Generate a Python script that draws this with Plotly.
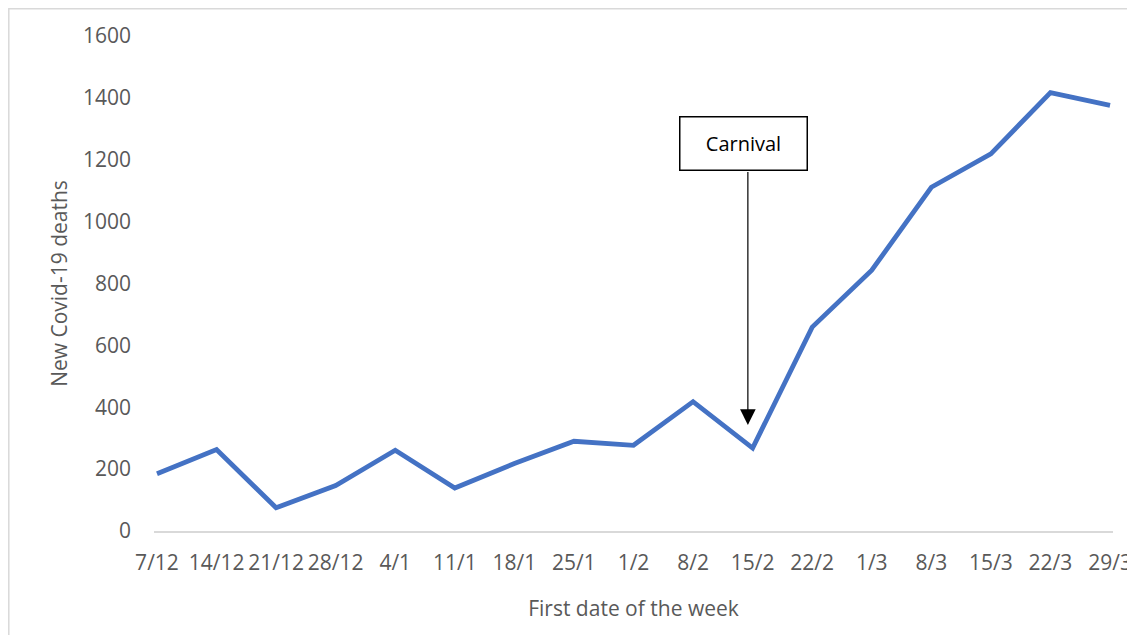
import plotly.graph_objects as go

weeks = ["7/12", "14/12", "21/12", "28/12", "4/1", "11/1", "18/1", "25/1", "1/2",
         "8/2", "15/2", "22/2", "1/3", "8/3", "15/3", "22/3", "29/3"]
deaths = [185, 263, 75, 147, 261, 139, 218, 290, 277,
          418, 268, 659, 843, 1111, 1219, 1417, 1376]
y_ticks = [0, 200, 400, 600, 800, 1000, 1200, 1400, 1600]

FONT = "Open Sans"
GREY = "#595959"
FS = 21

fig = go.Figure()
fig.add_trace(go.Scatter(
    x=list(range(len(weeks))), y=deaths, mode="lines",
    line=dict(color="#4472C4", width=4.8),
    hoverinfo="skip", showlegend=False,
))

fig.update_layout(
    width=1127, height=627,
    margin=dict(l=146, r=22, t=28, b=104, autoexpand=False),
    paper_bgcolor="white", plot_bgcolor="white",
    font=dict(family=FONT, size=FS, color=GREY),
    showlegend=False,
    xaxis=dict(
        tickmode="array", tickvals=list(range(len(weeks))), ticktext=weeks,
        range=[-0.05, 16.05], showgrid=False, zeroline=False,
        showline=True, linecolor="#d9d9d9", linewidth=1.5,
        ticks="", tickangle=0, ticklabelstandoff=12,
        ticklabeloverflow="allow", automargin=False,
        tickfont=dict(family=FONT, size=FS, color=GREY),
        title=dict(text="First date of the week", standoff=26,
                   font=dict(family=FONT, size=FS, color=GREY)),
    ),
    yaxis=dict(
        range=[0, 1600], tickvals=y_ticks, showgrid=False, zeroline=False,
        showline=False, ticks="", ticklabelstandoff=22, automargin=False,
        tickfont=dict(family=FONT, size=FS, color=GREY),
        title=dict(text="New Covid-19 deaths", standoff=9,
                   font=dict(family=FONT, size=FS, color=GREY)),
    ),
)

# outer chart border (left and top edges of the chart frame)
fig.add_shape(type="rect", xref="paper", yref="paper",
              x0=-0.1514, x1=1.05, y0=-0.3, y1=1.0550,
              line=dict(color="#d9d9d9", width=1.5), fillcolor="rgba(0,0,0,0)",
              layer="below")

# Carnival annotation box
fig.add_annotation(
    x=9.85, y=1253, xref="x", yref="y", text="Carnival", showarrow=False,
    font=dict(family=FONT, size=20, color="black"),
    bordercolor="black", borderwidth=1.5, borderpad=1,
    width=124, height=50, bgcolor="white",
)
# Arrow
fig.add_annotation(
    x=9.92, y=343, xref="x", yref="y", axref="x", ayref="y",
    ax=9.92, ay=1165, text="", showarrow=True,
    arrowhead=2, arrowsize=2.6, arrowwidth=1.2, arrowcolor="black",
)

fig.write_html("out.html")
